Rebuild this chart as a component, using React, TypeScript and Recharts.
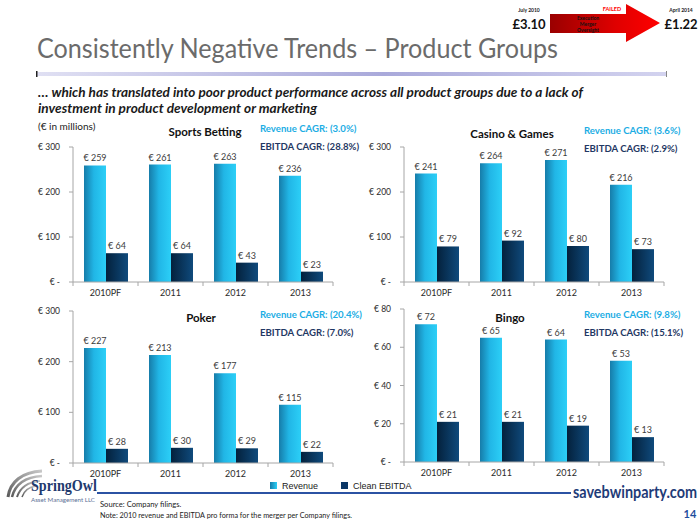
import React from 'react';
import { BarChart, Bar, XAxis, YAxis, LabelList } from 'recharts';

const FONT = 'Lato, "Open Sans", sans-serif';

// categories
const years = ['2010PF', '2011', '2012', '2013'];

// € millions
const sportsRevenue = [259, 261, 263, 236];
const sportsEbitda = [64, 64, 43, 23];
const casinoRevenue = [241, 264, 271, 216];
const casinoEbitda = [79, 92, 80, 73];
const pokerRevenue = [227, 213, 177, 115];
const pokerEbitda = [28, 30, 29, 22];
const bingoRevenue = [72, 65, 64, 53];
const bingoEbitda = [21, 21, 19, 13];

const ticks300 = [0, 100, 200, 300];
const ticks80 = [0, 20, 40, 60, 80];

const Y_W = 45;
const M_TOP = 20;
const M_RIGHT = 6;
const X_H = 25;

const euro = (v: number) => (v === 0 ? '€ -' : `€ ${v}`);

// value label above each bar, kept on one line
const renderValue = (p: any) => (
  <text
    x={Number(p.x) + Number(p.width) / 2}
    y={Number(p.y) - 4}
    textAnchor="middle"
    fontSize={9}
    fill="#3c3c3c"
    fontFamily={FONT}
  >
    {`€ ${p.value}`}
  </text>
);

function YearTick(props: any) {
  const { x, y, payload, index, step, count } = props;
  return (
    <g>
      <line x1={x - step / 2} x2={x - step / 2} y1={y} y2={y + 4} stroke="#a6a6a6" />
      {index === count - 1 && (
        <line x1={x + step / 2} x2={x + step / 2} y1={y} y2={y + 4} stroke="#a6a6a6" />
      )}
      <text x={x} y={y + 14} textAnchor="middle" fontSize={9} fill="#2b2b2b" fontFamily={FONT}>
        {payload.value}
      </text>
    </g>
  );
}

interface PanelProps {
  id: string;
  revenue: number[];
  ebitda: number[];
  ticks: number[];
  plotLeft: number;
  plotTop: number;
  plotW: number;
  plotH: number;
}

function Panel({ id, revenue, ebitda, ticks, plotLeft, plotTop, plotW, plotH }: PanelProps) {
  const data = years.map((year, i) => ({ year, revenue: revenue[i], ebitda: ebitda[i] }));
  const step = plotW / years.length;
  return (
    <div style={{ position: 'absolute', left: plotLeft - Y_W, top: plotTop - M_TOP }}>
      <BarChart
        width={Y_W + plotW + M_RIGHT}
        height={M_TOP + plotH + X_H}
        data={data}
        margin={{ top: M_TOP, right: M_RIGHT, bottom: 0, left: 0 }}
        barGap={0}
        barSize={22}
      >
        <defs>
          <linearGradient id={`rev-${id}`} x1="0" y1="0" x2="1" y2="0">
            <stop offset="0" stopColor="#167ca9" />
            <stop offset="0.45" stopColor="#21b6e6" />
            <stop offset="1" stopColor="#2ccff7" />
          </linearGradient>
          <linearGradient id={`ebd-${id}`} x1="0" y1="0" x2="1" y2="0">
            <stop offset="0" stopColor="#04213c" />
            <stop offset="1" stopColor="#0f4a7c" />
          </linearGradient>
        </defs>
        <XAxis
          dataKey="year"
          height={X_H}
          interval={0}
          tickSize={0}
          tickMargin={0}
          stroke="#a6a6a6"
          tick={(p: any) => <YearTick {...p} step={step} count={years.length} />}
        />
        <YAxis
          width={Y_W}
          domain={[0, ticks[ticks.length - 1]]}
          ticks={ticks}
          interval={0}
          tickSize={4}
          tickMargin={9}
          stroke="#a6a6a6"
          tickFormatter={euro}
          tick={{ fontSize: 8.5, fill: '#2b2b2b', fontFamily: FONT }}
        />
        <Bar dataKey="revenue" fill={`url(#rev-${id})`} isAnimationActive={false}>
          <LabelList dataKey="revenue" content={renderValue} />
        </Bar>
        <Bar dataKey="ebitda" fill={`url(#ebd-${id})`} isAnimationActive={false}>
          <LabelList dataKey="ebitda" content={renderValue} />
        </Bar>
      </BarChart>
    </div>
  );
}

function Header({ title, titleX, y, cagrX, revCagr, ebdCagr }: any) {
  return (
    <g fontFamily={FONT} fontWeight="bold" dominantBaseline="central">
      <text x={titleX} y={y + 3} textAnchor="middle" fontSize={11.5} fill="#111">{title}</text>
      <text x={cagrX} y={y} fontSize={9.6} fill="#1cade4">{`Revenue CAGR: ${revCagr}`}</text>
      <text x={cagrX} y={y + 18} fontSize={9.6} fill="#1f3864">{`EBITDA CAGR: ${ebdCagr}`}</text>
    </g>
  );
}

export default function App() {
  return (
    <div style={{ position: 'absolute', left: 0, top: 0, width: 700, height: 525, background: '#fff', overflow: 'hidden' }}>
      <Panel id="sb" revenue={sportsRevenue} ebitda={sportsEbitda} ticks={ticks300} plotLeft={73} plotTop={147} plotW={260} plotH={135} />
      <Panel id="cg" revenue={casinoRevenue} ebitda={casinoEbitda} ticks={ticks300} plotLeft={404} plotTop={147} plotW={260} plotH={135} />
      <Panel id="pk" revenue={pokerRevenue} ebitda={pokerEbitda} ticks={ticks300} plotLeft={73} plotTop={311} plotW={260} plotH={152} />
      <Panel id="bg" revenue={bingoRevenue} ebitda={bingoEbitda} ticks={ticks80} plotLeft={404} plotTop={309} plotW={260} plotH={153} />

      <svg width={700} height={525} style={{ position: 'absolute', left: 0, top: 0, pointerEvents: 'none' }}>
        <defs>
          <linearGradient id="titleBar" x1="0" y1="0" x2="1" y2="0">
            <stop offset="0" stopColor="#e0e0f3" />
            <stop offset="0.55" stopColor="#a9a9da" />
            <stop offset="1" stopColor="#d3d3ef" />
          </linearGradient>
          <linearGradient id="arrow" x1="0" y1="0" x2="1" y2="0">
            <stop offset="0" stopColor="#9a0000" />
            <stop offset="0.6" stopColor="#e00000" />
            <stop offset="1" stopColor="#ff0000" />
          </linearGradient>
          <linearGradient id="legRev" x1="0" y1="0" x2="1" y2="0">
            <stop offset="0" stopColor="#167ca9" />
            <stop offset="1" stopColor="#2ccff7" />
          </linearGradient>
          <linearGradient id="swoosh" x1="0" y1="1" x2="1" y2="0">
            <stop offset="0" stopColor="#5a5a5a" />
            <stop offset="1" stopColor="#c8c8c8" />
          </linearGradient>
        </defs>

        {/* share price widget */}
        <g fontFamily={FONT} fontWeight="bold" textAnchor="middle" dominantBaseline="central">
          <text x={529} y={10} fontSize={5} fill="#222">July 2010</text>
          <text x={529} y={24} fontSize={13} fill="#111">£3.10</text>
          <polygon points="550,14 626,14 626,4 660,23 626,42 626,33 550,33" fill="url(#arrow)" />
          <text x={612} y={9} fontSize={5.5} fill="#ff0000">FAILED</text>
          <text x={588} y={18} fontSize={5} fill="#111">Execution</text>
          <text x={588} y={24} fontSize={5} fill="#111">Merger</text>
          <text x={588} y={30} fontSize={5} fill="#111">Oversight</text>
          <text x={681} y={10} fontSize={5} fill="#222">April 2014</text>
          <text x={681} y={24} fontSize={13} fill="#111">£1.22</text>
        </g>

        {/* title */}
        <text x={37} y={47} fontFamily={FONT} fontSize={27} fill="#6b6b6b" dominantBaseline="central" textLength={521} lengthAdjust="spacingAndGlyphs">
          Consistently Negative Trends – Product Groups
        </text>
        <rect x={37} y={72} width={630} height={4} fill="url(#titleBar)" />
        <rect x={36} y={71} width={1.5} height={6} fill="#222" />
        <rect x={666} y={71} width={1} height={6} fill="#888" />

        <g fontFamily={FONT} fontWeight="bold" fontStyle="italic" fontSize={13} fill="#1a1a1a" dominantBaseline="central">
          <text x={38} y={92} textLength={545} lengthAdjust="spacingAndGlyphs">
            … which has translated into poor product performance across all product groups due to a lack of
          </text>
          <text x={38} y={107.5} textLength={279} lengthAdjust="spacingAndGlyphs">
            investment in product development or marketing
          </text>
        </g>
        <text x={38} y={126} fontFamily={FONT} fontSize={10} fill="#222" dominantBaseline="central">(€ in millions)</text>

        <Header title="Sports Betting" titleX={205} y={128.5} cagrX={260} revCagr="(3.0%)" ebdCagr="(28.8%)" />
        <Header title="Casino & Games" titleX={512} y={130} cagrX={584} revCagr="(3.6%)" ebdCagr="(2.9%)" />
        <Header title="Poker" titleX={201} y={314.5} cagrX={260} revCagr="(20.4%)" ebdCagr="(7.0%)" />
        <Header title="Bingo" titleX={510} y={314.5} cagrX={584} revCagr="(9.8%)" ebdCagr="(15.1%)" />

        {/* legend */}
        <g fontFamily='"Liberation Sans", Arial, sans-serif' fontSize={9} fill="#222" dominantBaseline="central">
          <rect x={270} y={482} width={7} height={7} fill="url(#legRev)" />
          <text x={282} y={486}>Revenue</text>
          <rect x={341} y={482} width={7} height={7} fill="#0b3766" />
          <text x={353} y={486}>Clean EBITDA</text>
        </g>

        {/* footer */}
        <g>
          <path d="M8,497 C10,482 22,472 42,471" stroke="url(#swoosh)" strokeWidth={3} fill="none" />
          <path d="M12,497 C15,485 25,477 42,476" stroke="url(#swoosh)" strokeWidth={2.5} fill="none" />
          <path d="M17,497 C20,488 28,482 40,481" stroke="url(#swoosh)" strokeWidth={2} fill="none" />
          <path d="M22,497 C24,491 29,487 36,486" stroke="url(#swoosh)" strokeWidth={1.5} fill="none" />
          <text x={31} y={485} fontFamily='"Liberation Serif", "DejaVu Serif", serif' fontWeight="bold" fontSize={16.5} fill="#1f3a6e" dominantBaseline="central" textLength={66} lengthAdjust="spacingAndGlyphs">
            SpringOwl
          </text>
          <text x={31} y={499.5} fontFamily={FONT} fontSize={6} fill="#5b6f95" dominantBaseline="central" textLength={64} lengthAdjust="spacingAndGlyphs">
            Asset Management LLC
          </text>
          <line x1={97} x2={571} y1={493} y2={493} stroke="#2b52a3" strokeWidth={2} />
          <text x={573} y={492} fontFamily={FONT} fontWeight="bold" fontSize={16.5} fill="#1f3c78" dominantBaseline="central" textLength={124} lengthAdjust="spacingAndGlyphs">
            savebwinparty.com
          </text>
          <text x={100} y={503.5} fontFamily={FONT} fontSize={7.6} fill="#222" dominantBaseline="central">Source: Company filings.</text>
          <text x={100} y={515} fontFamily={FONT} fontSize={7.6} fill="#222" dominantBaseline="central" textLength={252} lengthAdjust="spacingAndGlyphs">
            Note: 2010 revenue and EBITDA pro forma for the merger per Company filings.
          </text>
          <text x={690} y={513} fontFamily={FONT} fontWeight="bold" fontSize={11} fill="#1f4e9c" textAnchor="middle" dominantBaseline="central">14</text>
        </g>
      </svg>
    </div>
  );
}
